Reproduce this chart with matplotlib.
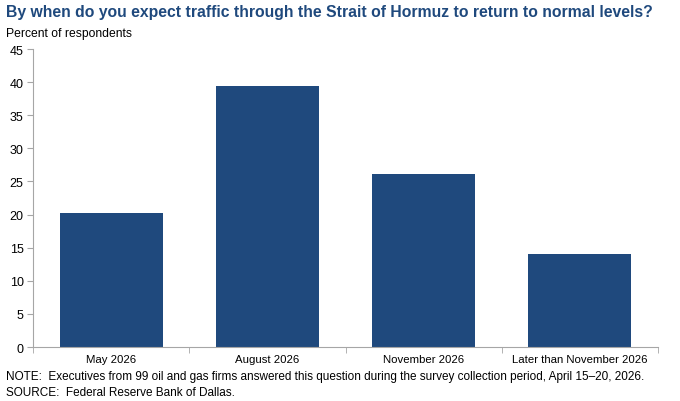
import matplotlib
matplotlib.use("Agg")
from matplotlib import pyplot as plt
import numpy as np

# Survey answers, percent of respondents
categories = ["May 2026", "August 2026", "November 2026", "Later than November 2026"]
percents = [20.2, 39.4, 26.2, 14.1]

plt.rcParams["font.family"] = ["Liberation Sans", "DejaVu Sans"]

fig = plt.figure(figsize=(6.8, 4.02), dpi=100)
ax = fig.add_axes([0.049, 0.1343, 0.9186, 0.7413])

x = np.arange(len(categories))
ax.bar(x, percents, width=0.66, color="#1F497D", zorder=2)

ax.set_xlim(-0.5, len(categories) - 0.5)
ax.set_ylim(0, 45)
ax.set_yticks(range(0, 46, 5))
ax.set_xticks(x)
ax.set_xticklabels(categories)
ax.set_xticks(np.arange(-0.5, len(categories), 1), minor=True)

for side in ["top", "right"]:
    ax.spines[side].set_visible(False)
for side in ["left", "bottom"]:
    ax.spines[side].set_color("#A6A6A6")

ax.tick_params(axis="y", which="major", length=4, color="#A6A6A6", labelsize=9, pad=3)
ax.tick_params(axis="x", which="major", length=0, labelsize=8.2, pad=5)
ax.tick_params(axis="x", which="minor", length=4, color="#A6A6A6")

fig.text(0.009, 0.968, "By when do you expect traffic through the Strait of Hormuz to return to normal levels?",
         fontsize=11.3, fontweight="bold", color="#1F497D", va="center")
fig.text(0.009, 0.915, "Percent of respondents", fontsize=8.7, va="center")
fig.text(0.009, 0.063, "NOTE:  Executives from 99 oil and gas firms answered this question during the survey collection period, April 15\u201320, 2026.",
         fontsize=8.45, va="center")
fig.text(0.009, 0.023, "SOURCE:  Federal Reserve Bank of Dallas.", fontsize=8.45, va="center")

fig.savefig("out.png", dpi=100)
